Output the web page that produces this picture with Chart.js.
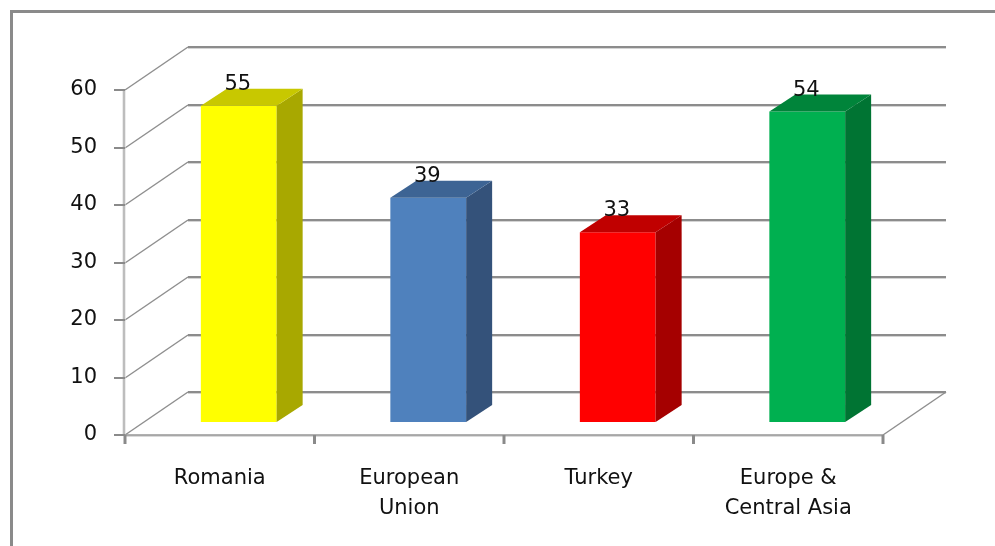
<!DOCTYPE html>
<html>
<head>
<meta charset="utf-8">
<title>Chart</title>
<script src="https://cdn.jsdelivr.net/npm/chart.js@4.4.0/dist/chart.umd.min.js"></script>
<style>
    body { margin: 0; background: #fff; }
    #wrap { width: 995px; height: 546px; }
</style>
</head>
<body>
<div id="wrap"><canvas id="myChart" width="995" height="546"></canvas></div>
<script>
// Datos del gráfico
const categories = [['Romania'], ['European', 'Union'], ['Turkey'], ['Europe &', 'Central Asia']];
const values = [55, 39, 33, 54];
const yTicks = [0, 10, 20, 30, 40, 50, 60];

// Colores de cada barra: frente, lado, tapa
const frontColors = ['#ffff00', '#4f81bd', '#ff0000', '#00b050'];
const sideColors = ['#a8a800', '#34527a', '#a50000', '#007433'];
const topColors = ['#c8c800', '#3d6494', '#c00000', '#00843a'];

// Profundidad de la pared del fondo y de las barras
const WALL_DX = 63, WALL_DY = -43;
const SHIFT_X = 19, SHIFT_Y = -13;
const DEPTH_X = 26, DEPTH_Y = -17;

const FONT = 'DejaVu Sans';

function line(ctx, x1, y1, x2, y2, color, width) {
    ctx.beginPath();
    ctx.strokeStyle = color;
    ctx.lineWidth = width;
    ctx.moveTo(x1, y1);
    ctx.lineTo(x2, y2);
    ctx.stroke();
}

// Marco, paredes y ejes dibujados a mano para el efecto 3D
const wall3d = {
    id: 'wall3d',
    beforeDraw(chart) {
        const ctx = chart.ctx;
        ctx.save();
        line(ctx, 10, 11.5, 995, 11.5, '#8a8a8a', 3);
        line(ctx, 11.5, 10, 11.5, 546, '#8a8a8a', 3);
        ctx.restore();
    },
    beforeDatasetsDraw(chart) {
        const ctx = chart.ctx;
        const a = chart.chartArea;
        const y = chart.scales.y;
        ctx.save();
        // rejilla de la pared del fondo y diagonales laterales
        yTicks.forEach(v => {
            const py = Math.round(y.getPixelForValue(v));
            line(ctx, a.left + WALL_DX, py + WALL_DY + 1.5, a.right + WALL_DX, py + WALL_DY + 1.5, '#d4d4d4', 1);
            line(ctx, a.left + WALL_DX, py + WALL_DY, a.right + WALL_DX, py + WALL_DY, '#8c8c8c', 2);
            line(ctx, a.left, py, a.left + WALL_DX, py + WALL_DY, '#8f8f8f', 1.5);
        });
        // borde derecho del suelo
        line(ctx, a.right, a.bottom, a.right + WALL_DX, a.bottom + WALL_DY, '#8f8f8f', 1.5);
        // eje vertical
        line(ctx, a.left - 1, a.top, a.left - 1, a.bottom, '#dadada', 3);
        line(ctx, a.left - 1, a.top, a.left - 1, a.bottom, '#a0a0a0', 1);
        yTicks.forEach(v => {
            const py = Math.round(y.getPixelForValue(v));
            line(ctx, a.left - 11, py, a.left, py, '#8a8a8a', 2);
        });
        // eje horizontal
        line(ctx, a.left, a.bottom + 1, a.right, a.bottom + 1, '#dadada', 2);
        line(ctx, a.left, a.bottom, a.right, a.bottom, '#969696', 1.5);
        const w = (a.right - a.left) / categories.length;
        for (let i = 0; i <= categories.length; i++) {
            const px = a.left + i * w;
            line(ctx, px, a.bottom, px, a.bottom + 9, '#8a8a8a', 3);
        }
        ctx.restore();

        // las caras frontales se dibujan desplazadas hacia el fondo
        ctx.save();
        ctx.translate(SHIFT_X, SHIFT_Y);
    },
    afterDatasetsDraw(chart) {
        const ctx = chart.ctx;
        const meta = chart.getDatasetMeta(0);
        meta.data.forEach((bar, i) => {
            const l = bar.x - bar.width / 2;
            const r = bar.x + bar.width / 2;
            const t = bar.y;
            const b = bar.base;
            // cara lateral
            ctx.beginPath();
            ctx.fillStyle = sideColors[i];
            ctx.moveTo(r, t);
            ctx.lineTo(r + DEPTH_X, t + DEPTH_Y);
            ctx.lineTo(r + DEPTH_X, b + DEPTH_Y);
            ctx.lineTo(r, b);
            ctx.closePath();
            ctx.fill();
            // tapa
            ctx.beginPath();
            ctx.fillStyle = topColors[i];
            ctx.moveTo(l, t);
            ctx.lineTo(l + DEPTH_X, t + DEPTH_Y);
            ctx.lineTo(r + DEPTH_X, t + DEPTH_Y);
            ctx.lineTo(r, t);
            ctx.closePath();
            ctx.fill();
            // etiqueta de valor
            ctx.fillStyle = '#111';
            ctx.font = '21px "' + FONT + '"';
            ctx.textAlign = 'center';
            ctx.textBaseline = 'alphabetic';
            ctx.fillText(String(values[i]), bar.x - 1, t + DEPTH_Y + 1);
        });
        ctx.restore();
    }
};

const ctx = document.getElementById('myChart').getContext('2d');
const myChart = new Chart(ctx, {
    type: 'bar',
    data: {
        labels: categories,
        datasets: [{
            data: values,
            backgroundColor: frontColors,
            borderWidth: 0,
            categoryPercentage: 1,
            barPercentage: 0.4,
            clip: false
        }]
    },
    options: {
        responsive: false,
        animation: false,
        layout: { padding: { top: 90, right: 112, bottom: 0, left: 0 } },
        plugins: {
            legend: { display: false },
            tooltip: { enabled: false }
        },
        scales: {
            x: {
                grid: { display: false, drawTicks: false },
                border: { display: false },
                ticks: {
                    color: '#111',
                    font: { family: FONT, size: 21, lineHeight: 1.45 },
                    padding: 28,
                    maxRotation: 0
                },
                afterFit(scale) { scale.height = 111; }
            },
            y: {
                min: 0,
                max: 60,
                grid: { display: false, drawTicks: false },
                border: { display: false },
                ticks: {
                    stepSize: 10,
                    color: '#111',
                    font: { family: FONT, size: 21 },
                    padding: 28
                },
                afterFit(scale) { scale.width = 125; }
            }
        }
    },
    plugins: [wall3d]
});
</script>
</body>
</html>
